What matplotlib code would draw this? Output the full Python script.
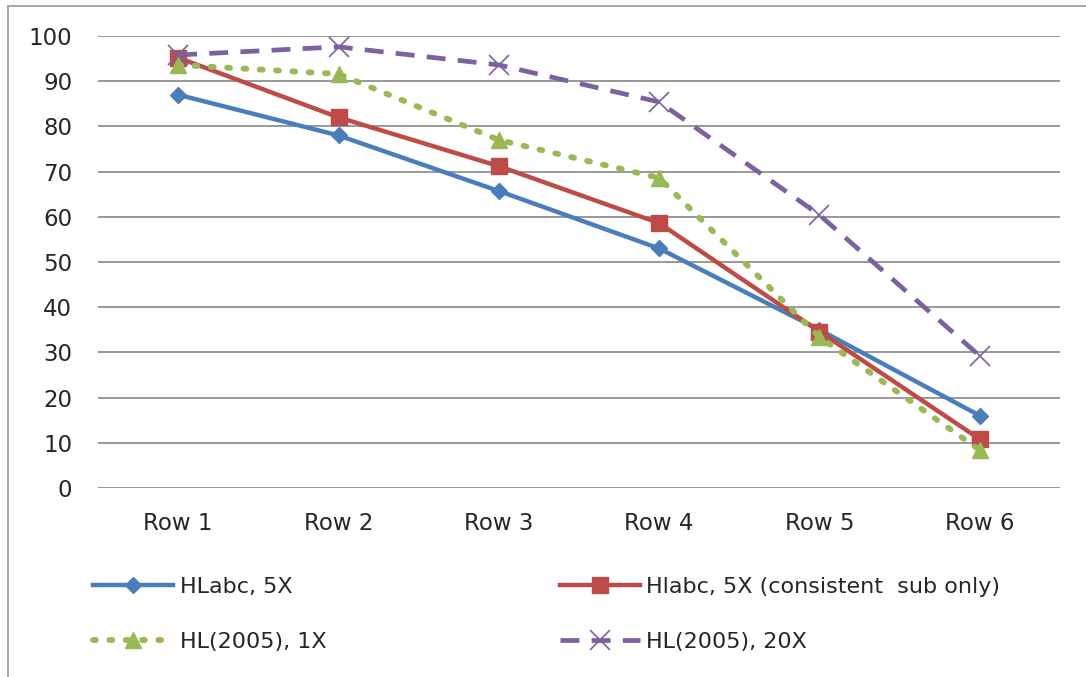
import matplotlib.pyplot as plt
from matplotlib.patches import Rectangle

# categories and series values
rows = ["Row 1", "Row 2", "Row 3", "Row 4", "Row 5", "Row 6"]
hlabc_5x = [87, 78, 65.7, 53, 35, 16]
hlabc_5x_cons = [95.2, 82, 71.2, 58.6, 34.6, 10.8]
hl2005_1x = [93.6, 91.6, 77, 68.6, 33.4, 8.4]
hl2005_20x = [95.8, 97.6, 93.6, 85.4, 60.4, 29.2]
yticks = [0, 10, 20, 30, 40, 50, 60, 70, 80, 90, 100]

plt.rcParams['font.family'] = ['DejaVu Sans']

fig = plt.figure(figsize=(10.86, 6.77), dpi=100)
ax = fig.add_axes([98 / 1086, 1 - 488 / 677, 962 / 1086, 452 / 677])

x = range(len(rows))
l1, = ax.plot(x, hlabc_5x, color='#4a7ebb', lw=3.2, marker='D', ms=8,
              label='HLabc, 5X')
l2, = ax.plot(x, hlabc_5x_cons, color='#be4b48', lw=3.2, marker='s', ms=11,
              label='Hlabc, 5X (consistent  sub only)')
l3, = ax.plot(x, hl2005_1x, color='#98b954', lw=4.2, ls=(0, (0.5, 2.3)),
              dash_capstyle='round', marker='^', ms=12,
              label='HL(2005), 1X')
l4, = ax.plot(x, hl2005_20x, color='#7d60a0', lw=3.4, ls=(0, (4, 2.6)),
              marker='x', ms=15, mew=1.2, label='HL(2005), 20X')

ax.set_xlim(-0.5, len(rows) - 0.5)
ax.set_ylim(0, 100)
ax.set_yticks(yticks)
ax.set_xticks(list(x))
ax.set_xticklabels(rows)
ax.yaxis.grid(True, color='#888888', lw=1.2)
ax.set_axisbelow(True)
for s in ax.spines.values():
    s.set_visible(False)
ax.tick_params(length=0, labelsize=16.5, colors='#262626')
ax.tick_params(axis='y', pad=18.5)
ax.tick_params(axis='x', pad=17.5)

fig.legend([l1, l3, l2, l4], [l1.get_label(), l3.get_label(), l2.get_label(), l4.get_label()],
           ncol=2, loc='upper left', bbox_to_anchor=(93 / 1086, 1 - 577 / 677),
           borderaxespad=0, borderpad=0, labelcolor='#262626',
           frameon=False, fontsize=16, handlelength=3.6, handletextpad=0.3,
           columnspacing=10.5, labelspacing=1.58)

fig.patches.append(Rectangle((8 / 1086, -0.01), 1.1, 1 - 6 / 677 + 0.01,
                             transform=fig.transFigure, fill=False,
                             edgecolor='#999999', lw=1.2))

fig.savefig('out.png', dpi=100)
